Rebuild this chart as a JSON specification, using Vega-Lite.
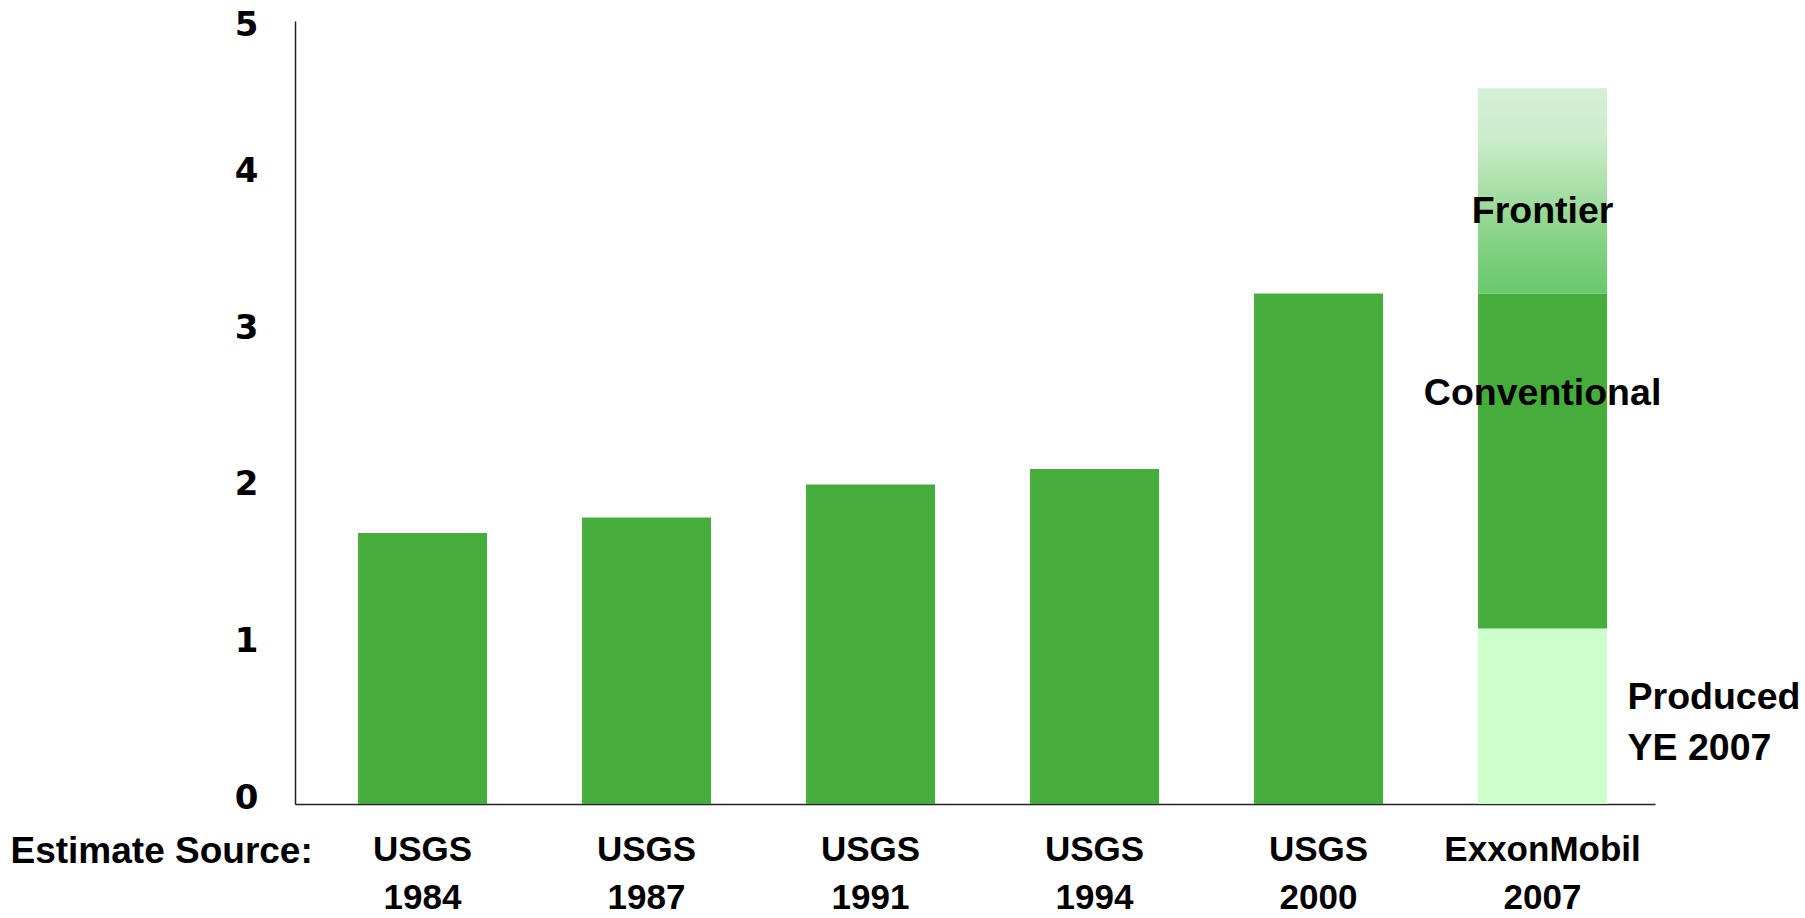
{
  "$schema": "https://vega.github.io/schema/vega-lite/v6.json",
  "autosize": "none",
  "width": 1360,
  "height": 783,
  "padding": {"left": 295, "top": 21, "right": 150, "bottom": 114},
  "background": "white",
  "config": {"view": {"stroke": null}},
  "datasets": {
    "bars": [
      {"source": "USGS 1984", "segment": "Conventional", "order": 1, "value": 1.73},
      {"source": "USGS 1987", "segment": "Conventional", "order": 1, "value": 1.83},
      {"source": "USGS 1991", "segment": "Conventional", "order": 1, "value": 2.04},
      {"source": "USGS 1994", "segment": "Conventional", "order": 1, "value": 2.14},
      {"source": "USGS 2000", "segment": "Conventional", "order": 1, "value": 3.26},
      {"source": "ExxonMobil 2007", "segment": "Produced", "order": 0, "value": 1.12},
      {"source": "ExxonMobil 2007", "segment": "Conventional", "order": 1, "value": 2.14},
      {"source": "ExxonMobil 2007", "segment": "Frontier", "order": 2, "value": 1.31}
    ],
    "labels": [
      {"source": "ExxonMobil 2007", "label": "Frontier", "pos": 3.78},
      {"source": "ExxonMobil 2007", "label": "Conventional", "pos": 2.62}
    ],
    "side": [
      {"source": "ExxonMobil 2007", "label": ["Produced", "YE 2007"], "pos": 0.68}
    ]
  },
  "layer": [
    {
      "data": {"name": "bars"},
      "transform": [
        {"stack": "value", "groupby": ["source"], "sort": [{"field": "order"}], "as": ["v0", "v1"]},
        {"filter": "datum.segment !== 'Frontier'"}
      ],
      "mark": {"type": "bar"},
      "encoding": {
        "x": {
          "field": "source", "type": "nominal", "sort": null,
          "scale": {"paddingInner": 0.424, "paddingOuter": 0.2477, "align": 0.568},
          "axis": {
            "title": "Estimate Source:",
            "titleX": -285, "titleY": 29, "titleAlign": "left", "titleBaseline": "top",
            "titleFont": "Liberation Sans", "titleFontSize": 37, "titleFontWeight": "bold", "titleColor": "black",
            "labelExpr": "split(datum.label, ' ')",
            "labelFont": "Liberation Sans", "labelFontSize": 35, "labelFontWeight": "bold", "labelColor": "black",
            "labelLineHeight": 48, "labelPadding": 28, "labelBaseline": "top", "labelLimit": 0,
            "labelAngle": 0, "ticks": false, "domainColor": "#222222", "domainWidth": 1.5
          }
        },
        "y": {
          "field": "v0", "type": "quantitative",
          "scale": {"domain": [0, 5], "nice": false},
          "axis": {
            "title": null, "grid": false, "ticks": false, "values": [0, 1, 2, 3, 4, 5], "format": "d",
            "labelFont": "DejaVu Sans", "labelFontSize": 34, "labelFontWeight": "bold", "labelColor": "black",
            "labelPadding": 37, "domainColor": "#222222", "domainWidth": 1.5,
            "labelOffset": {"condition": {"test": "datum.value == 5", "value": 4}, "value": -6}
          }
        },
        "y2": {"field": "v1"},
        "color": {
          "field": "segment", "type": "nominal",
          "scale": {"domain": ["Conventional", "Produced"], "range": ["#46ad3c", "#ccffcc"]},
          "legend": null
        }
      }
    },
    {
      "data": {"name": "bars"},
      "transform": [
        {"stack": "value", "groupby": ["source"], "sort": [{"field": "order"}], "as": ["v0", "v1"]},
        {"filter": "datum.segment === 'Frontier'"}
      ],
      "mark": {
        "type": "bar",
        "color": {
          "gradient": "linear", "x1": 0, "y1": 0, "x2": 0, "y2": 1,
          "stops": [
            {"offset": 0, "color": "#d5f0d6"},
            {"offset": 0.25, "color": "#cbecca"},
            {"offset": 0.5, "color": "#a8dea6"},
            {"offset": 0.75, "color": "#84d284"},
            {"offset": 1, "color": "#68c96b"}
          ]
        }
      },
      "encoding": {
        "x": {"field": "source", "type": "nominal", "sort": null},
        "y": {"field": "v0", "type": "quantitative"},
        "y2": {"field": "v1"}
      }
    },
    {
      "data": {"name": "labels"},
      "mark": {"type": "text", "font": "Liberation Sans", "fontSize": 37.5, "fontWeight": "bold", "color": "black", "align": "center", "baseline": "middle"},
      "encoding": {
        "x": {"field": "source", "type": "nominal", "sort": null},
        "y": {"field": "pos", "type": "quantitative"},
        "text": {"field": "label"}
      }
    },
    {
      "data": {"name": "side"},
      "mark": {"type": "text", "font": "Liberation Sans", "fontSize": 37.5, "fontWeight": "bold", "color": "black", "align": "left", "baseline": "middle", "dx": 85, "lineHeight": 51},
      "encoding": {
        "x": {"field": "source", "type": "nominal", "sort": null},
        "y": {"field": "pos", "type": "quantitative"},
        "text": {"field": "label"}
      }
    }
  ]
}
